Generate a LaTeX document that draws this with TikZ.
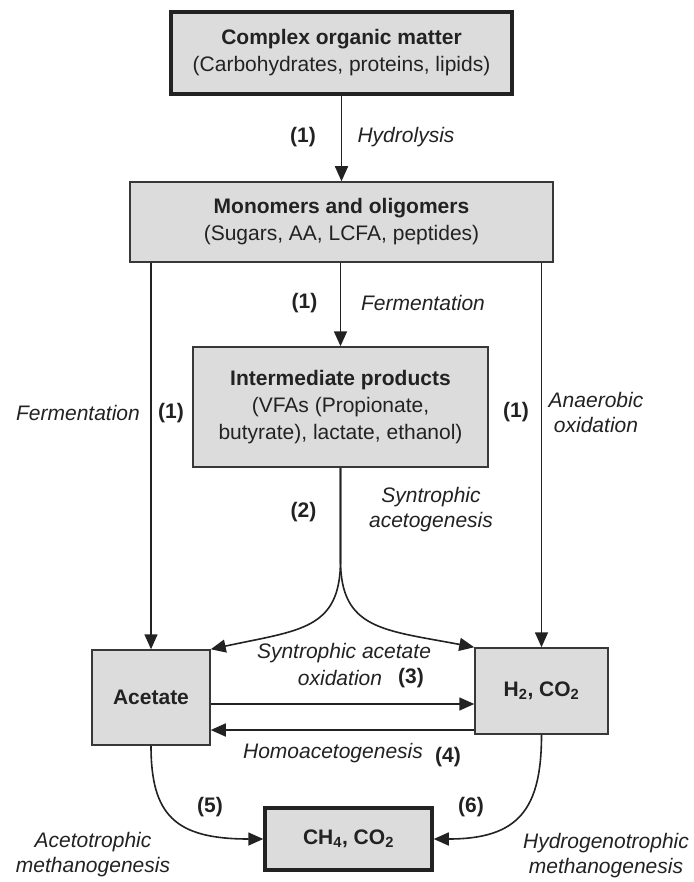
\documentclass[tikz,border=0pt]{standalone}
\usepackage{fontspec}
\setmainfont{Liberation Sans}
\usetikzlibrary{arrows.meta}
\definecolor{boxfill}{HTML}{DCDCDC}
\definecolor{ink}{HTML}{222222}
\begin{document}
\begin{tikzpicture}[x=1pt,y=-1pt,
  every node/.style={font=\fontsize{21}{27}\selectfont, text=ink},
  box/.style={draw=ink!90, fill=boxfill, line width=1.5pt, inner sep=0pt, align=center},
  thickbox/.style={box, draw=ink, line width=3.5pt},
  lbl/.style={font=\fontsize{21}{25}\selectfont\itshape, align=center, inner sep=0pt},
  num/.style={font=\fontsize{21}{25}\selectfont\bfseries, inner sep=0pt},
  arr/.style={draw=ink, line width=1.6pt, -{Triangle[length=15pt,width=13pt]}},
]
\useasboundingbox[fill=white] (0,0) rectangle (693,882);

% boxes
\node[thickbox, minimum width=341pt, minimum height=82pt] (om) at (341.5,53)
  {\textbf{Complex organic matter}\\(Carbohydrates, proteins, lipids)};
\node[box, minimum width=423pt, minimum height=80pt] (mo) at (341.5,222)
  {\textbf{Monomers and oligomers}\\(Sugars, AA, LCFA, peptides)};
\node[box, minimum width=295pt, minimum height=120pt] (ip) at (340.5,407)
  {\textbf{Intermediate products}\\(VFAs (Propionate,\\butyrate), lactate, ethanol)};
\node[box, minimum width=118pt, minimum height=95pt] (ac) at (151,697.5)
  {\textbf{Acetate}};
\node[box, minimum width=133pt, minimum height=86pt] (hc) at (541.5,691)
  {\textbf{H\textsubscript{2}, CO\textsubscript{2}}};
\node[thickbox, minimum width=167pt, minimum height=62pt] (ch) at (348.5,839)
  {\textbf{CH\textsubscript{4}, CO\textsubscript{2}}};

% labels
\node[num] (n1a) at (303,137) {(1)};
\node[lbl] (hyd) at (406,137) {Hydrolysis};
\node[num] (n1b) at (304.5,303) {(1)};
\node[lbl] (fer1) at (423,303) {Fermentation};
\node[lbl] (fer2) at (78,413) {Fermentation};
\node[num] (n1c) at (171,413) {(1)};
\node[num] (n1d) at (516,412) {(1)};
\node[lbl] (ana) at (596,412) {Anaerobic\\oxidation};
\node[num] (n2) at (303.5,512) {(2)};
\node[lbl] (sac) at (431,510) {Syntrophic\\acetogenesis};
\node[lbl] (sao) at (344,653) {Syntrophic acetate};
\node[lbl] (oxi) at (340,678) {oxidation};
\node[num] (n3) at (411,678) {(3)};
\node[lbl] (hom) at (333,753) {Homoacetogenesis};
\node[num] (n4) at (448,757) {(4)};
\node[num] (n5) at (210,807) {(5)};
\node[num] (n6) at (471,807) {(6)};
\node[lbl] (acm) at (93,855) {Acetotrophic\\methanogenesis};
\node[lbl] (hym) at (606,856) {Hydrogenotrophic\\methanogenesis};

% connectors
\draw[arr] (om.south) -- (mo.north);
\draw[arr] (mo.south -| ip.north) -- (ip.north);
\draw[arr] (mo.south -| ac.north) -- (ac.north);
\draw[arr] (mo.south -| hc.north) -- (hc.north);
\coordinate (split) at (340.5,560);
\draw[arr] (ip.south) -- (split) .. controls (340.5,630) and (300,630) .. (ac.north east);
\draw[arr] (ip.south) -- (split) .. controls (340.5,630) and (384,630) .. (hc.north west);
\coordinate (ya) at (0,704);
\coordinate (yb) at (0,730);
\draw[arr] (ac.east |- ya) -- (hc.west |- ya);
\draw[arr] (hc.west |- yb) -- (ac.east |- yb);
\draw[arr] (ac.south) .. controls (151,815) and (175,839) .. (ch.west);
\draw[arr] (hc.south) .. controls (541.5,810) and (518,839) .. (ch.east);
\end{tikzpicture}
\end{document}
